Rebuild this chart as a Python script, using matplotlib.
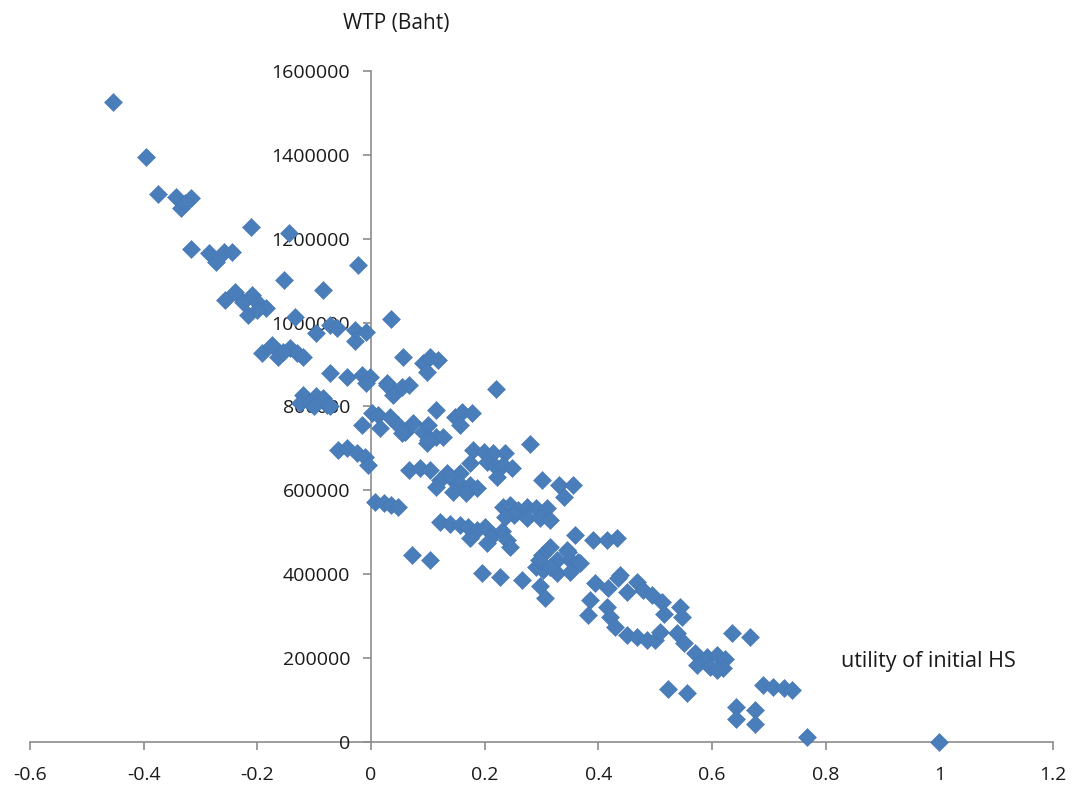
import matplotlib.pyplot as plt

# utility of initial health state vs. willingness to pay
utility = [
    -0.454, -0.396, -0.375, -0.343, -0.334, -0.317, -0.327, -0.212, -0.144, -0.316,
    -0.285, -0.273, -0.259, -0.245, -0.153, -0.023, -0.084, -0.257, -0.239, -0.225,
    -0.21, -0.216, -0.198, -0.184, -0.201, -0.134, -0.096, -0.072, -0.028, -0.008,
    -0.028, -0.06, 0.035, -0.192, -0.175, -0.163, -0.143, -0.131, -0.119, -0.155,
    -0.073, -0.043, -0.016, -0.002, -0.008, -0.119, -0.096, -0.125, -0.107, -0.084,
    -0.078, 0.028, 0.001, 0.057, 0.092, 0.104, 0.118, 0.098, 0.028, 0.039,
    0.054, 0.066, -0.101, -0.072, 0.012, -0.016, 0.016, 0.033, 0.048, 0.06,
    0.074, 0.092, 0.101, 0.098, 0.115, 0.127, 0.115, 0.148, 0.16, 0.177,
    0.18, -0.058, -0.043, -0.025, -0.011, -0.005, 0.066, 0.086, 0.104, 0.133,
    0.157, 0.174, 0.22, 0.054, 0.157, 0.1, 0.279, 0.198, 0.215, 0.236,
    0.204, 0.218, 0.233, 0.248, 0.221, 0.121, 0.115, 0.139, 0.154, 0.145,
    0.174, 0.168, 0.186, 0.3, 0.33, 0.356, 0.339, 0.007, 0.022, 0.036,
    0.048, 0.121, 0.139, 0.157, 0.171, 0.186, 0.174, 0.2, 0.215, 0.204,
    0.23, 0.239, 0.245, 0.233, 0.245, 0.259, 0.274, 0.291, 0.309, 0.251,
    0.274, 0.297, 0.315, 0.236, 0.073, 0.104, 0.359, 0.391, 0.415, 0.432,
    0.3, 0.315, 0.344, 0.327, 0.35, 0.365, 0.291, 0.303, 0.195, 0.227,
    0.265, 0.327, 0.35, 0.438, 0.297, 0.306, 0.295, 0.347, 0.368, 0.315,
    0.394, 0.435, 0.417, 0.45, 0.468, 0.479, 0.494, 0.385, 0.382, 0.415,
    0.421, 0.43, 0.512, 0.515, 0.544, 0.547, 0.45, 0.468, 0.485, 0.5,
    0.509, 0.538, 0.55, 0.635, 0.57, 0.591, 0.608, 0.623, 0.573, 0.597,
    0.62, 0.608, 0.666, 0.523, 0.556, 0.69, 0.708, 0.726, 0.74, 0.643,
    0.643, 0.676, 0.676, 0.767, 1.0,
]
wtp = [
    1526000, 1395000, 1307000, 1300000, 1274000, 1297000, 1285000, 1228000, 1213000, 1176000,
    1166000, 1145000, 1169000, 1169000, 1102000, 1138000, 1078000, 1054000, 1074000, 1050000,
    1066000, 1018000, 1046000, 1034000, 1030000, 1014000, 975000, 994000, 983000, 978000,
    955000, 986000, 1008000, 927000, 947000, 918000, 939000, 927000, 918000, 931000,
    880000, 871000, 875000, 871000, 855000, 828000, 824000, 808000, 808000, 820000,
    804000, 855000, 784000, 918000, 903000, 918000, 911000, 883000, 851000, 828000,
    847000, 851000, 800000, 800000, 780000, 756000, 749000, 776000, 756000, 740000,
    760000, 740000, 756000, 713000, 728000, 728000, 792000, 776000, 788000, 784000,
    696000, 696000, 700000, 689000, 680000, 661000, 649000, 653000, 649000, 641000,
    641000, 665000, 841000, 736000, 756000, 720000, 711000, 692000, 689000, 689000,
    668000, 657000, 661000, 653000, 633000, 625000, 609000, 633000, 617000, 597000,
    613000, 593000, 605000, 625000, 613000, 613000, 585000, 573000, 569000, 565000,
    561000, 525000, 521000, 517000, 513000, 505000, 486000, 513000, 494000, 474000,
    502000, 482000, 466000, 561000, 565000, 553000, 561000, 557000, 557000, 541000,
    533000, 533000, 529000, 537000, 446000, 434000, 494000, 482000, 482000, 486000,
    446000, 466000, 458000, 434000, 434000, 430000, 418000, 410000, 403000, 394000,
    386000, 403000, 406000, 398000, 371000, 343000, 434000, 454000, 426000, 418000,
    378000, 390000, 367000, 358000, 382000, 363000, 351000, 339000, 303000, 323000,
    299000, 275000, 334000, 306000, 323000, 299000, 255000, 251000, 243000, 243000,
    263000, 259000, 235000, 259000, 212000, 203000, 207000, 199000, 184000, 180000,
    176000, 172000, 251000, 126000, 116000, 136000, 132000, 128000, 124000, 84000,
    56000, 76000, 43000, 13000, 0,
]

x_ticks = [-0.6, -0.4, -0.2, 0, 0.2, 0.4, 0.6, 0.8, 1, 1.2]
x_labels = ['-0.6', '-0.4', '-0.2', '0', '0.2', '0.4', '0.6', '0.8', '1', '1.2']
y_ticks = [0, 200000, 400000, 600000, 800000, 1000000, 1200000, 1400000, 1600000]

plt.rcParams['font.family'] = ['Open Sans', 'DejaVu Sans']

fig = plt.figure(figsize=(10.73, 7.85), dpi=100)
ax = fig.add_axes([30 / 1073, 43 / 785, 1023 / 1073, 671 / 785])

ax.plot(utility, wtp, 'D', color='#4a7ebb', markersize=8.8,
        markeredgecolor='#4677b4', markeredgewidth=0.4, clip_on=False, zorder=3)

ax.set_xlim(-0.6, 1.2)
ax.set_ylim(0, 1600000)

# excel style axes crossing at the origin
gray = '#8c8c8c'
ax.spines['left'].set_position(('data', 0))
ax.spines['bottom'].set_position(('data', 0))
ax.spines['top'].set_visible(False)
ax.spines['right'].set_visible(False)
for s in ['left', 'bottom']:
    ax.spines[s].set_color(gray)
    ax.spines[s].set_linewidth(1.2)
    ax.spines[s].set_zorder(1)

ax.set_xticks(x_ticks)
ax.set_xticklabels(x_labels)
ax.set_yticks(y_ticks)
ax.set_yticklabels([str(v) for v in y_ticks])
ax.tick_params(axis='both', direction='out', length=6, width=1.2, color=gray,
               labelsize=14, labelcolor='#1a1a1a')
ax.tick_params(axis='y', pad=9)
ax.tick_params(axis='x', pad=11)

fig.text(396 / 1073, 1 - 23 / 785, 'WTP (Baht)', ha='center', va='center',
         fontsize=15, color='#1a1a1a')
fig.text(928 / 1073, 1 - 662 / 785, 'utility of initial HS', ha='center', va='center',
         fontsize=15.5, color='#1a1a1a')

fig.savefig('out.png', dpi=100)
